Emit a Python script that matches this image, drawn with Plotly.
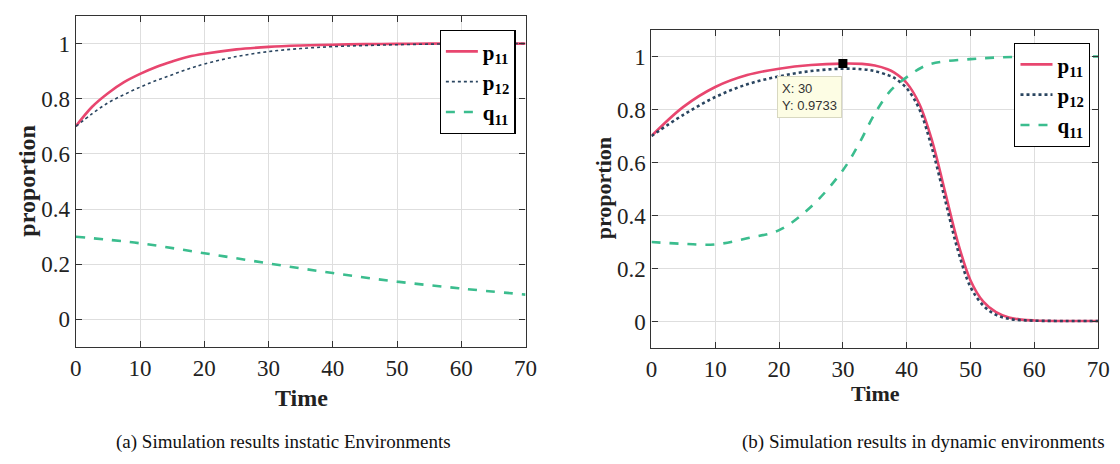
import plotly.graph_objects as go

# ---- (a) static environments ----
t_a = [0, 2.5, 5, 7.5, 10, 12.5, 15, 17.5, 20, 25, 30, 35, 40, 45, 50, 55, 60, 65, 70]
p11_a = [0.70, 0.77, 0.82, 0.86, 0.89, 0.915, 0.935, 0.952, 0.963, 0.979, 0.988, 0.993, 0.996, 0.998, 0.999, 1.0, 1.0, 1.0, 1.0]
p12_a = [0.70, 0.745, 0.785, 0.815, 0.842, 0.866, 0.887, 0.908, 0.926, 0.953, 0.971, 0.982, 0.989, 0.993, 0.996, 0.998, 0.999, 1.0, 1.0]
tq_a = [0, 10, 20, 30, 40, 50, 60, 70]
q11_a = [0.30, 0.276, 0.24, 0.203, 0.168, 0.137, 0.112, 0.09]

# ---- (b) dynamic environments ----
t_b = [0, 5, 10, 15, 20, 25, 30, 33, 35, 37, 38, 40, 42, 44, 46, 48, 50, 52, 54, 56, 58, 60, 65, 70]
p11_b = [0.70, 0.81, 0.885, 0.93, 0.954, 0.968, 0.9733, 0.972, 0.966, 0.952, 0.94, 0.90, 0.82, 0.68, 0.49, 0.30, 0.155, 0.075, 0.035, 0.015, 0.007, 0.004, 0.002, 0.002]
p12_b = [0.70, 0.78, 0.847, 0.895, 0.925, 0.945, 0.954, 0.952, 0.945, 0.93, 0.92, 0.88, 0.80, 0.65, 0.46, 0.27, 0.13, 0.06, 0.025, 0.01, 0.005, 0.003, 0.002, 0.002]
tq_b = [0, 5, 10, 15, 20, 25, 30, 32.5, 35, 37.5, 40, 43, 46, 50, 54, 60, 65, 70]
q11_b = [0.30, 0.293, 0.291, 0.314, 0.345, 0.433, 0.571, 0.67, 0.784, 0.872, 0.922, 0.966, 0.982, 0.99, 0.996, 1.0, 1.0, 1.0]

tip_x = [30]
tip_y = [0.9733]

xticks = [0, 10, 20, 30, 40, 50, 60, 70]
yticks = [0, 0.2, 0.4, 0.6, 0.8, 1]
ytick_text = ["0", "0.2", "0.4", "0.6", "0.8", "1"]

RED = "#e8466f"
NAVY = "#2a4560"
TEAL = "#3bbd8e"
SERIF = "Liberation Serif"

fig = go.Figure()

def add_set(tp, p11, p12, tq, q11, xa, ya, leg, dotw):
    fig.add_trace(go.Scatter(x=tp, y=p11, mode="lines", name="<b>p<sub>11</sub></b>",
                             line=dict(color=RED, width=2.6, shape="spline"),
                             xaxis=xa, yaxis=ya, legend=leg))
    fig.add_trace(go.Scatter(x=tp, y=p12, mode="lines", name="<b>p<sub>12</sub></b>",
                             line=dict(color=NAVY, width=dotw, dash="dot", shape="spline"),
                             xaxis=xa, yaxis=ya, legend=leg))
    fig.add_trace(go.Scatter(x=tq, y=q11, mode="lines", name="<b>q<sub>11</sub></b>",
                             line=dict(color=TEAL, width=2.6, dash="dash", shape="spline"),
                             xaxis=xa, yaxis=ya, legend=leg))

add_set(t_a, p11_a, p12_a, tq_a, q11_a, "x", "y", "legend", 1.6)
add_set(t_b, p11_b, p12_b, tq_b, q11_b, "x2", "y2", "legend2", 2.6)

fig.add_trace(go.Scatter(x=tip_x, y=tip_y, mode="markers",
                         marker=dict(symbol="square", size=9, color="black"),
                         xaxis="x2", yaxis="y2", showlegend=False, hoverinfo="skip"))

W, H = 1120, 464
def px(x): return x / W
def py(y): return 1 - y / H

axcommon = dict(showline=True, linecolor="#333333", linewidth=1.3, mirror="ticks",
                ticks="inside", ticklen=6, tickcolor="#333333", showgrid=True,
                gridcolor="#dedede", gridwidth=1, zeroline=False,
                tickfont=dict(family=SERIF, size=23, color="#222222"))

legcommon = dict(xanchor="right", yanchor="top", bgcolor="white",
                 bordercolor="black", borderwidth=1.2, itemwidth=32,
                 font=dict(family=SERIF, size=21, color="black"), tracegroupgap=0)

fig.update_layout(
    width=W, height=H, margin=dict(l=0, r=0, t=0, b=0),
    paper_bgcolor="white", plot_bgcolor="white",
    xaxis=dict(domain=[px(71), px(528)], range=[0, 70], tickvals=xticks, anchor="y", **axcommon),
    yaxis=dict(domain=[py(347), py(16)], range=[-0.1, 1.1], tickvals=yticks, ticktext=ytick_text, anchor="x", **axcommon),
    xaxis2=dict(domain=[px(656), px(1110)], range=[0, 70], tickvals=xticks, anchor="y2", **axcommon),
    yaxis2=dict(domain=[py(348), py(30)], range=[-0.1, 1.1], tickvals=yticks, ticktext=ytick_text, anchor="x2", **axcommon),
    legend=dict(x=px(518), y=py(30), **legcommon),
    legend2=dict(x=px(1102), y=py(43), **legcommon),
    showlegend=True,
)

def pa(text, x, y, size, angle=0, color="#222222"):
    return dict(text=text, x=px(x), y=py(y), xref="paper", yref="paper",
                xanchor="center", yanchor="middle", textangle=angle, showarrow=False,
                font=dict(family=SERIF, size=size, color=color))

ann = [
    pa("<b>proportion</b>", 21, 181, 24, -90),
    pa("<b>Time</b>", 300, 398, 24),
    pa("<b>proportion</b>", 607, 188, 22, -90),
    pa("<b>Time</b>", 884, 393, 22),
    pa("(a) Simulation results instatic Environments", 282, 442, 19, 0, "#111111"),
    pa("(b) Simulation results in dynamic environments", 932, 442, 19, 0, "#111111"),
    dict(text="X: 30<br>Y: 0.9733", x=19.6, y=0.925, xref="x2", yref="y2",
         xanchor="left", yanchor="top", align="left", showarrow=False,
         bgcolor="#fdfde4", bordercolor="#d8d8c0", borderwidth=1, borderpad=4,
         font=dict(family="Liberation Sans", size=13, color="#333333")),
]
fig.update_layout(annotations=ann)

fig.write_html("out.html", config={"displayModeBar": False},
               post_script="document.body.style.margin='0';document.body.style.overflow='hidden';")
